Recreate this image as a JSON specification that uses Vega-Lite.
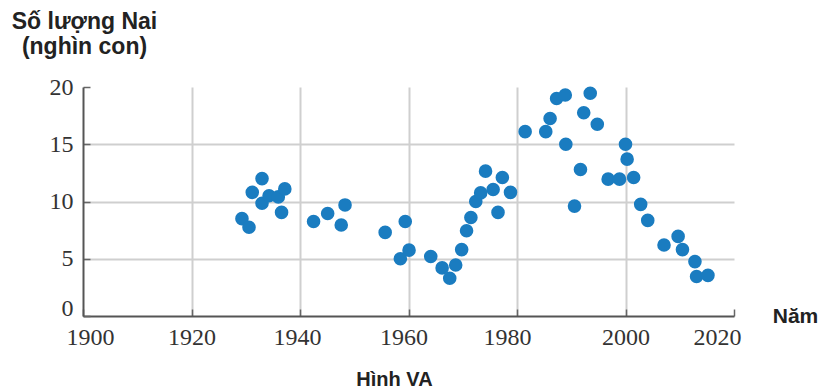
{
  "$schema": "https://vega.github.io/schema/vega-lite/v6.json",
  "width": 651,
  "height": 229,
  "autosize": {"type": "none"},
  "padding": {"left": 83, "top": 87, "right": 86, "bottom": 75},
  "background": "white",
  "title": {
    "text": "Hình VA",
    "orient": "bottom",
    "anchor": "middle",
    "dx": -14,
    "offset": 21,
    "baseline": "top",
    "font": "Liberation Sans",
    "fontSize": 20,
    "fontWeight": "bold",
    "color": "#222222"
  },
  "data": {
    "values": [
      {"nam": 1929.3, "nai": 8.5},
      {"nam": 1930.6, "nai": 7.75},
      {"nam": 1931.2, "nai": 10.8},
      {"nam": 1933.0, "nai": 12.0},
      {"nam": 1933.0, "nai": 9.85},
      {"nam": 1934.3, "nai": 10.5},
      {"nam": 1936.0, "nai": 10.4},
      {"nam": 1937.2, "nai": 11.1},
      {"nam": 1936.6, "nai": 9.05},
      {"nam": 1942.5, "nai": 8.25},
      {"nam": 1945.1, "nai": 8.95},
      {"nam": 1947.6, "nai": 7.95},
      {"nam": 1948.3, "nai": 9.7},
      {"nam": 1955.7, "nai": 7.3},
      {"nam": 1959.4, "nai": 8.25},
      {"nam": 1958.5, "nai": 5.0},
      {"nam": 1960.1, "nai": 5.75},
      {"nam": 1964.1, "nai": 5.2},
      {"nam": 1966.2, "nai": 4.2},
      {"nam": 1967.6, "nai": 3.3},
      {"nam": 1968.7, "nai": 4.45},
      {"nam": 1969.8, "nai": 5.8},
      {"nam": 1970.7, "nai": 7.45},
      {"nam": 1971.5, "nai": 8.6},
      {"nam": 1972.4, "nai": 10.0},
      {"nam": 1973.3, "nai": 10.75},
      {"nam": 1974.2, "nai": 12.65},
      {"nam": 1975.6, "nai": 11.05},
      {"nam": 1976.5, "nai": 9.05},
      {"nam": 1977.3, "nai": 12.1},
      {"nam": 1978.8, "nai": 10.8},
      {"nam": 1981.5, "nai": 16.1},
      {"nam": 1985.3, "nai": 16.1},
      {"nam": 1986.1, "nai": 17.25},
      {"nam": 1987.3, "nai": 19.0},
      {"nam": 1988.9, "nai": 19.3},
      {"nam": 1989.0, "nai": 15.0},
      {"nam": 1990.6, "nai": 9.6},
      {"nam": 1991.7, "nai": 12.8},
      {"nam": 1992.3, "nai": 17.75},
      {"nam": 1993.5, "nai": 19.45},
      {"nam": 1994.8, "nai": 16.75},
      {"nam": 1996.8, "nai": 11.95},
      {"nam": 1998.9, "nai": 11.95},
      {"nam": 2000.0, "nai": 15.0},
      {"nam": 2000.3, "nai": 13.7},
      {"nam": 2001.5, "nai": 12.1},
      {"nam": 2002.8, "nai": 9.75},
      {"nam": 2004.1, "nai": 8.35},
      {"nam": 2007.1, "nai": 6.2},
      {"nam": 2009.7, "nai": 6.95},
      {"nam": 2010.5, "nai": 5.8},
      {"nam": 2012.8, "nai": 4.75},
      {"nam": 2013.1, "nai": 3.45},
      {"nam": 2015.2, "nai": 3.55}
    ]
  },
  "mark": {"type": "circle", "size": 185, "color": "#1a7cc0", "opacity": 1},
  "encoding": {
    "x": {
      "field": "nam",
      "type": "quantitative",
      "scale": {"domain": [1900, 2020], "nice": false, "zero": false},
      "axis": {
        "values": [1900, 1920, 1940, 1960, 1980, 2000, 2020],
        "format": "d",
        "labelFlush": false,
        "labelOverlap": false,
        "grid": true,
        "gridColor": "#cfcfcf",
        "gridWidth": 2,
        "gridOpacity": {"condition": {"test": "datum.value == 2020 || datum.value == 1900", "value": 0}, "value": 1},
        "domainColor": "#555555",
        "domainWidth": 2,
        "tickColor": "#666666",
        "tickWidth": 1.5,
        "tickSize": -7,
        "labelPadding": 16,
        "labelFont": "Liberation Serif",
        "labelFontSize": 24,
        "labelColor": "#333333",
        "labelBaseline": "top",
        "labelOffset": {"condition": [
          {"test": "datum.value == 1900", "value": 7},
          {"test": "datum.value == 1940", "value": -3},
          {"test": "datum.value == 1960", "value": -5},
          {"test": "datum.value == 1980", "value": -10},
          {"test": "datum.value == 2020", "value": -17}
        ], "value": 0},
        "title": "Năm",
        "titleFont": "Liberation Sans",
        "titleFontSize": 21,
        "titleFontWeight": "bold",
        "titleColor": "#222222",
        "titleAngle": 0,
        "titleAlign": "center",
        "titleBaseline": "alphabetic",
        "titleX": 712,
        "titleY": 6
      }
    },
    "y": {
      "field": "nai",
      "type": "quantitative",
      "scale": {"domain": [0, 20], "nice": false},
      "axis": {
        "values": [0, 5, 10, 15, 20],
        "labelFlush": false,
        "grid": true,
        "gridColor": "#cfcfcf",
        "gridWidth": 2,
        "gridOpacity": {"condition": {"test": "datum.value == 0 || datum.value == 20", "value": 0}, "value": 1},
        "domainColor": "#555555",
        "domainWidth": 2,
        "tickColor": "#666666",
        "tickWidth": 1.5,
        "tickSize": -7,
        "labelPadding": 17,
        "labelFont": "Liberation Serif",
        "labelFontSize": 24,
        "labelColor": "#333333",
        "labelOffset": {"condition": {"test": "datum.value == 0", "value": -8}, "value": 0},
        "title": ["Số lượng Nai", "(nghìn con)"],
        "titleFont": "Liberation Sans",
        "titleFontSize": 23,
        "titleFontWeight": "bold",
        "titleColor": "#222222",
        "titleLineHeight": 25,
        "titleAngle": 0,
        "titleAlign": "center",
        "titleBaseline": "alphabetic",
        "titleX": 1,
        "titleY": -59
      }
    }
  },
  "config": {"view": {"stroke": null}}
}
